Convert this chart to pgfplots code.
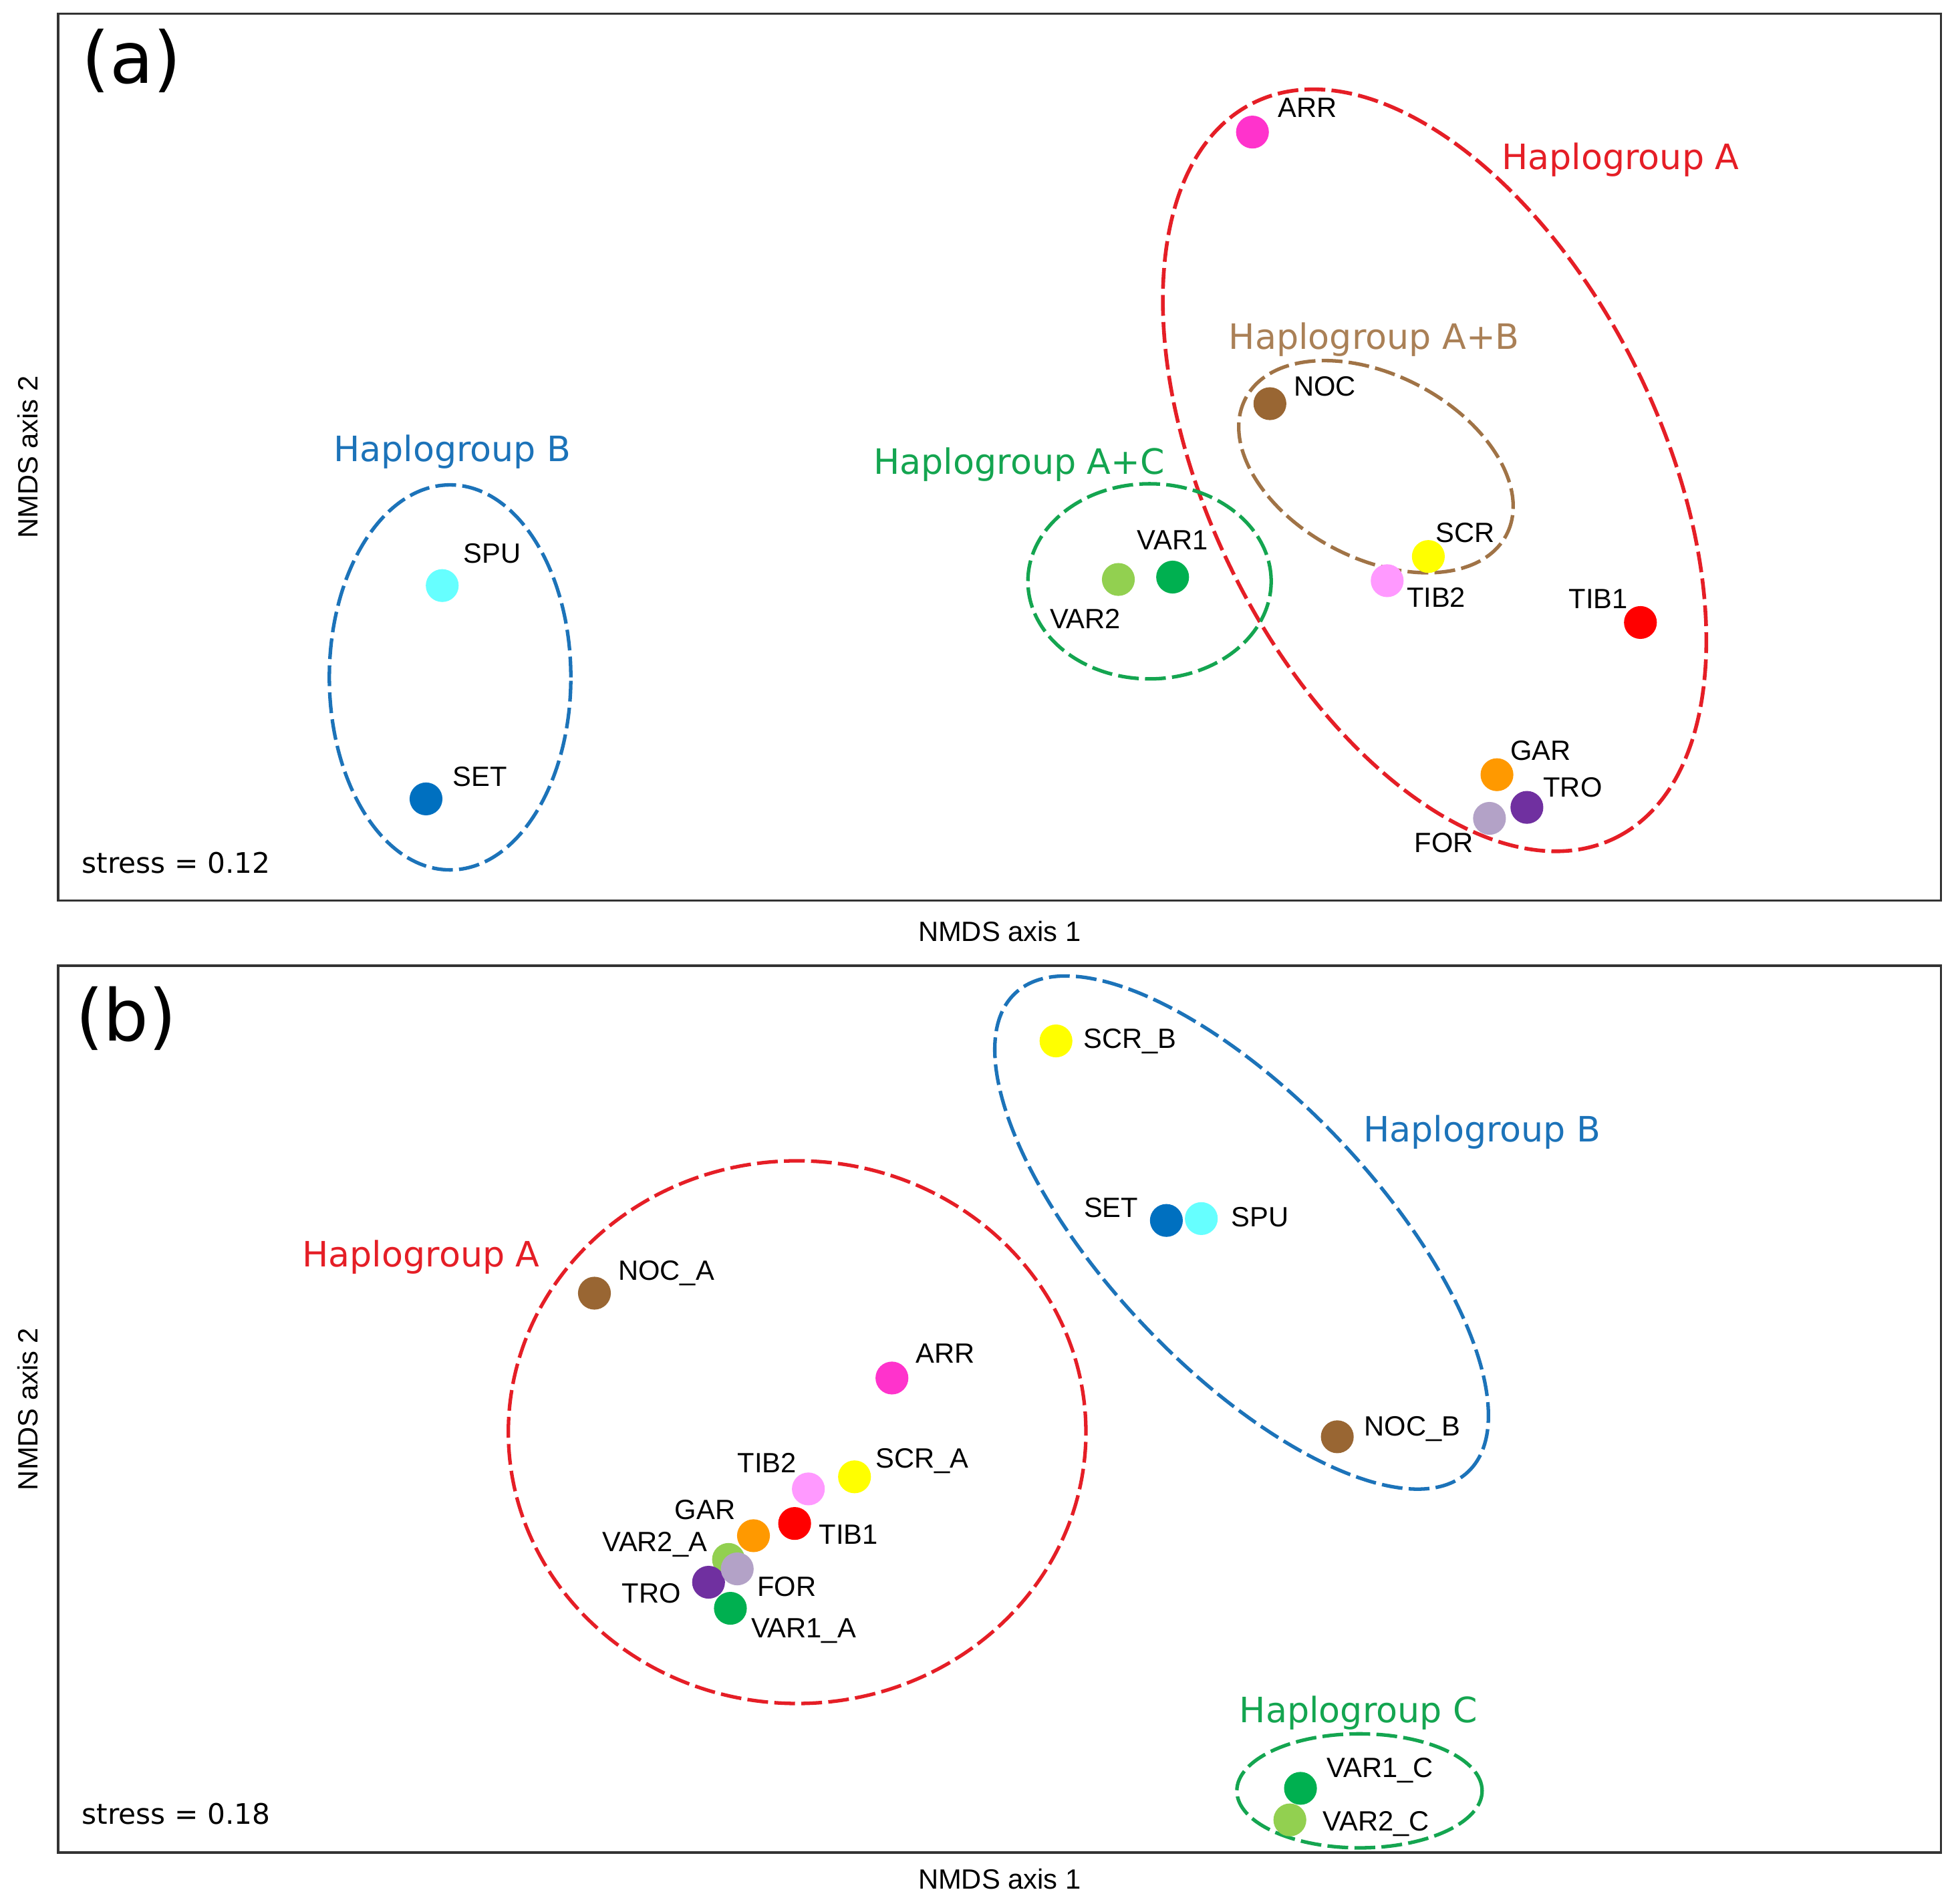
\documentclass[border=0pt]{standalone}
\usepackage{pgfplots}
\pgfplotsset{compat=1.18}
\usepackage{pgfplotstable}
\usepackage{fontspec}
\setmainfont{Liberation Sans}
\newfontfamily\dejavu{DejaVu Sans}

% point colours
\definecolor{cSPU}{RGB}{102,255,255}
\definecolor{cSET}{RGB}{0,112,192}
\definecolor{cARR}{RGB}{255,51,204}
\definecolor{cNOC}{RGB}{153,102,51}
\definecolor{cSCR}{RGB}{255,255,0}
\definecolor{cTIBb}{RGB}{255,153,255}
\definecolor{cTIBa}{RGB}{255,0,0}
\definecolor{cVARa}{RGB}{0,176,80}
\definecolor{cVARb}{RGB}{146,208,80}
\definecolor{cGAR}{RGB}{255,153,0}
\definecolor{cTRO}{RGB}{112,48,160}
\definecolor{cFOR}{RGB}{179,162,199}
% group colours
\definecolor{gRed}{RGB}{229,30,38}
\definecolor{gBlue}{RGB}{28,115,185}
\definecolor{gGreen}{RGB}{20,165,80}
\definecolor{gBrown}{RGB}{160,115,70}
\definecolor{gBrownTxt}{RGB}{170,128,86}

% panel (a): x y class
\pgfplotstableread{
x y cls
308 252.6 spu
295 81.6 set
957.5 616.1 arr
971.5 398.4 noc
1098.5 275.9 scr
1065.5 256.5 tibb
1268.5 223 tiba
893.5 259.4 vara
850 257.5 varb
1153.5 101 gar
1177.5 74.8 tro
1147.5 66 forr
}\dataA

% panel (b)
\pgfplotstableread{
x y cls
800 650.6 scr
888.5 506.7 set
916.5 508.2 spu
1025.5 333.3 noc
430 448.4 noc
668.5 380.4 arr
638.5 301.2 scr
601.5 291.5 tibb
590.5 263.8 tiba
557.5 254 gar
537.5 235 varb
521.5 216.7 tro
544.5 227.4 forr
539 195.8 vara
996 51.5 vara
987.5 26.2 varb
}\dataB

\pgfplotsset{
  nmds/.style={
    scale only axis, width=452.85pt, height=213.3pt,
    xmin=0, xmax=1509.5, ymin=0, ymax=711,
    xtick=\empty, ytick=\empty,
    axis line style={line width=0.55pt, black!80},
    anchor=south west,
    xlabel={NMDS axis 1}, ylabel={NMDS axis 2},
    label style={font=\fontsize{6.7}{8}\selectfont},
    ylabel style={at={(axis description cs:-0.0159,0.5)}, anchor=center},
  },
  pts/.style={
    only marks, scatter, scatter src=explicit symbolic, mark size=3.75pt,
    scatter/classes={
      spu={mark=*, fill=cSPU, draw=cSPU},
      set={mark=*, fill=cSET, draw=cSET},
      arr={mark=*, fill=cARR, draw=cARR},
      noc={mark=*, fill=cNOC, draw=cNOC},
      scr={mark=*, fill=cSCR, draw=cSCR},
      tibb={mark=*, fill=cTIBb, draw=cTIBb},
      tiba={mark=*, fill=cTIBa, draw=cTIBa},
      vara={mark=*, fill=cVARa, draw=cVARa},
      varb={mark=*, fill=cVARb, draw=cVARb},
      gar={mark=*, fill=cGAR, draw=cGAR},
      tro={mark=*, fill=cTRO, draw=cTRO},
      forr={mark=*, fill=cFOR, draw=cFOR}
    },
  },
}
\tikzset{
  lw/.style={font=\fontsize{6.7}{8}\selectfont, inner sep=0pt, anchor=base west, yshift=-2.4pt},
  le/.style={lw, anchor=base east},
  lc/.style={lw, anchor=base},
  grp/.style={font=\dejavu\fontsize{8.4}{10}\selectfont, inner sep=0pt, anchor=base, yshift=-3.06pt},
  stress/.style={font=\dejavu\fontsize{6.8}{8}\selectfont, inner sep=0pt, anchor=base west, yshift=-2.48pt},
  panel/.style={font=\dejavu\fontsize{17.2}{20}\selectfont, inner sep=0pt, anchor=base west, yshift=-5.4pt},
  ring/.style={line width=0.85pt, dash pattern=on 5pt off 1.5pt},
}

\begin{document}
\begin{tikzpicture}
% ---------------- (a)
\begin{axis}[nmds, at={(13.95pt,241.2pt)},
  xlabel style={at={(axis description cs:0.5,-0.0349)}, anchor=center}]
\draw[ring, gBlue] (axis cs:314.3,179) ellipse [x radius=29.04pt, y radius=46.29pt];
\draw[ring, gRed, line width=0.9pt] (axis cs:1103.5,345) ellipse [x radius=98.52pt, y radius=54.36pt, rotate=-63.8];
\draw[ring, gBrown] (axis cs:1056.5,347.9) ellipse [x radius=35.4pt, y radius=22.05pt, rotate=-27.6];
\draw[ring, gGreen] (axis cs:875,256) ellipse [x radius=29.25pt, y radius=23.46pt];
\addplot[pts] table[x=x, y=y, meta=cls] {\dataA};
\node[lw] at (axis cs:324.5,278.9) {SPU};
\node[lw] at (axis cs:316,100) {SET};
\node[lw] at (axis cs:977.5,636) {ARR};
\node[lw] at (axis cs:990,412.5) {NOC};
\node[lw] at (axis cs:1104,295.4) {SCR};
\node[lw] at (axis cs:1080.5,243.4) {TIB2};
\node[le] at (axis cs:1259,242) {TIB1};
\node[lc] at (axis cs:893.5,289.5) {VAR1};
\node[lc] at (axis cs:823.5,226.4) {VAR2};
\node[lw] at (axis cs:1163.5,120.4) {GAR};
\node[lw] at (axis cs:1190,91.3) {TRO};
\node[lc] at (axis cs:1111,46.6) {FOR};
\node[grp, gBlue] at (axis cs:316,362.4) {Haplogroup B};
\node[grp, gRed] at (axis cs:1252.5,596.6) {Haplogroup A};
\node[grp, gBrownTxt] at (axis cs:1055,452.3) {Haplogroup A+B};
\node[grp, gGreen] at (axis cs:770.5,352) {Haplogroup A+C};
\node[stress] at (axis cs:18.5,30.6) {stress = 0.12};
\node[panel] at (axis cs:18.5,673.4) {(a)};
\end{axis}
% ---------------- (b)
\begin{axis}[nmds, at={(13.95pt,12.3pt)},
  xlabel style={at={(axis description cs:0.5,-0.0301)}, anchor=center}]
\draw[ring, gRed] (axis cs:592.5,337) ellipse [x radius=69.45pt, y radius=65.25pt];
\draw[ring, gBlue] (axis cs:948.8,497) ellipse [x radius=79.23pt, y radius=32.4pt, rotate=-46.55];
\draw[ring, gGreen] (axis cs:1043.3,49.5) ellipse [x radius=29.49pt, y radius=13.71pt];
\addplot[pts] table[x=x, y=y, meta=cls] {\dataB};
\node[lw] at (axis cs:821.5,652.5) {SCR\_B};
\node[le] at (axis cs:866.5,517.4) {SET};
\node[lw] at (axis cs:940,509.7) {SPU};
\node[lw] at (axis cs:1046.5,342) {NOC\_B};
\node[lw] at (axis cs:448.5,467) {NOC\_A};
\node[lw] at (axis cs:687,400.3) {ARR};
\node[lw] at (axis cs:655,316.3) {SCR\_A};
\node[le] at (axis cs:592.5,312.4) {TIB2};
\node[lw] at (axis cs:609.5,255.5) {TIB1};
\node[le] at (axis cs:543.5,275) {GAR};
\node[le] at (axis cs:521,249.2) {VAR2\_A};
\node[lw] at (axis cs:560,213.7) {FOR};
\node[le] at (axis cs:500,208) {TRO};
\node[lw] at (axis cs:555,180.2) {VAR1\_A};
\node[lw] at (axis cs:1016.5,68.5) {VAR1\_C};
\node[lw] at (axis cs:1013.5,25.7) {VAR2\_C};
\node[grp, gRed] at (axis cs:291,480) {Haplogroup A};
\node[grp, gBlue] at (axis cs:1141.5,580.1) {Haplogroup B};
\node[grp, gGreen] at (axis cs:1042.5,114.6) {Haplogroup C};
\node[stress] at (axis cs:18.5,31) {stress = 0.18};
\node[panel] at (axis cs:13.5,668.5) {(b)};
\end{axis}
\pgfresetboundingbox
\path (0,0) rectangle (470.4pt,457.8pt);
\end{tikzpicture}
\end{document}
